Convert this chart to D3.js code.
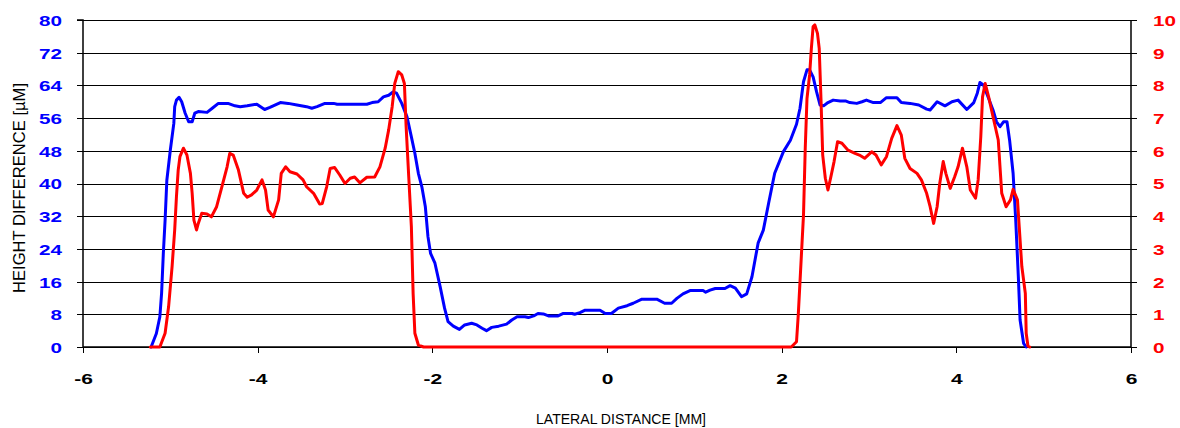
<!DOCTYPE html>
<html>
<head>
<meta charset="utf-8">
<script src="https://cdn.jsdelivr.net/npm/d3@7"></script>
<style>
  html, body { margin: 0; padding: 0; background: #fff; }
  svg { display: block; }
</style>
</head>
<body>
<svg id="chart" width="1180" height="428"></svg>
<script>
// ---- data ----
const xTicks = [-6, -4, -2, 0, 2, 4, 6];
const yLeftTicks = [0, 8, 16, 24, 32, 40, 48, 56, 64, 72, 80];
const yRightTicks = [0, 1, 2, 3, 4, 5, 6, 7, 8, 9, 10];
const xTitle = "LATERAL DISTANCE [MM]";
const yTitle = "HEIGHT DIFFERENCE [µM]";

// height difference (µm), left axis
const blueSeries = [[-5.22,0],[-5.16,3.3],[-5.12,7.4],[-5.10,13.2],[-5.08,23],[-5.06,31],[-5.04,40.8],[-5.00,48.2],[-4.96,54.7],[-4.95,58.8],[-4.93,60.4],[-4.90,61.1],[-4.87,60],[-4.83,57.2],[-4.79,55.1],[-4.75,55.1],[-4.72,57.2],[-4.68,57.6],[-4.58,57.4],[-4.52,58.4],[-4.45,59.6],[-4.34,59.6],[-4.26,59],[-4.20,58.8],[-4.12,59],[-4.01,59.4],[-3.92,58.1],[-3.86,58.6],[-3.74,59.8],[-3.65,59.6],[-3.55,59.2],[-3.44,58.8],[-3.38,58.4],[-3.32,58.8],[-3.23,59.6],[-3.13,59.6],[-3.09,59.4],[-2.75,59.4],[-2.69,59.8],[-2.62,60],[-2.56,61.2],[-2.50,61.6],[-2.45,62.4],[-2.41,62.1],[-2.35,59.6],[-2.29,56.3],[-2.24,51.4],[-2.20,47.4],[-2.16,42.5],[-2.12,39.2],[-2.08,34.3],[-2.05,27],[-2.02,22.9],[-1.97,20.5],[-1.91,14.7],[-1.86,9.5],[-1.82,6.2],[-1.76,5.1],[-1.69,4.3],[-1.63,5.4],[-1.55,5.8],[-1.49,5.4],[-1.43,4.6],[-1.38,4.0],[-1.32,4.8],[-1.24,5.1],[-1.15,5.6],[-1.09,6.6],[-1.03,7.4],[-0.94,7.4],[-0.90,7.2],[-0.84,7.6],[-0.79,8.2],[-0.73,8.1],[-0.67,7.6],[-0.56,7.6],[-0.50,8.2],[-0.40,8.2],[-0.37,8.0],[-0.31,8.4],[-0.25,9.0],[-0.08,9.0],[-0.02,8.2],[0.05,8.2],[0.13,9.5],[0.23,10.1],[0.30,10.7],[0.40,11.7],[0.57,11.7],[0.66,10.7],[0.74,10.7],[0.80,11.9],[0.87,13],[0.95,13.8],[1.10,13.8],[1.13,13.4],[1.18,13.9],[1.24,14.3],[1.35,14.3],[1.41,15],[1.47,14.4],[1.54,12.3],[1.60,13],[1.66,17.2],[1.73,25.4],[1.79,28.6],[1.85,35.1],[1.92,42.5],[2.02,47.8],[2.10,50.6],[2.17,54.5],[2.21,58.4],[2.25,64.9],[2.29,67.8],[2.32,67.8],[2.36,66.1],[2.40,62.4],[2.44,59.2],[2.48,59],[2.53,59.8],[2.59,60.4],[2.67,60.2],[2.73,60.2],[2.78,59.8],[2.86,59.6],[2.92,60],[2.97,60.4],[3.05,59.8],[3.13,59.8],[3.20,61],[3.32,61],[3.37,59.8],[3.47,59.6],[3.57,59.2],[3.66,58.2],[3.70,58],[3.78,60],[3.87,59],[3.95,60],[4.02,60.4],[4.12,58.1],[4.20,59.8],[4.24,62.1],[4.27,64.7],[4.31,64.1],[4.37,60.8],[4.42,58],[4.46,55.1],[4.50,53.9],[4.54,55.1],[4.58,55.1],[4.61,50.6],[4.65,42.5],[4.68,31.1],[4.71,17.2],[4.73,6.6],[4.77,0.9],[4.80,0]];

// right axis series
const redSeries = [[-5.23,0],[-5.12,0],[-5.06,0.42],[-5.02,1.23],[-4.98,2.46],[-4.95,3.58],[-4.93,4.6],[-4.91,5.41],[-4.89,5.82],[-4.85,6.08],[-4.81,5.87],[-4.77,5.31],[-4.75,4.7],[-4.73,3.88],[-4.70,3.58],[-4.68,3.78],[-4.64,4.09],[-4.58,4.07],[-4.53,3.98],[-4.47,4.29],[-4.41,4.9],[-4.35,5.51],[-4.32,5.92],[-4.28,5.87],[-4.22,5.41],[-4.16,4.7],[-4.12,4.58],[-4.07,4.65],[-4.01,4.8],[-3.95,5.11],[-3.91,4.8],[-3.88,4.19],[-3.82,3.98],[-3.76,4.5],[-3.73,5.31],[-3.68,5.51],[-3.63,5.36],[-3.55,5.29],[-3.48,5.11],[-3.44,4.9],[-3.36,4.7],[-3.29,4.37],[-3.26,4.39],[-3.21,4.9],[-3.17,5.46],[-3.12,5.49],[-3.06,5.26],[-3.00,5.0],[-2.94,5.16],[-2.89,5.2],[-2.83,5.02],[-2.75,5.19],[-2.66,5.2],[-2.60,5.51],[-2.54,6.08],[-2.50,6.64],[-2.46,7.35],[-2.43,8.06],[-2.39,8.42],[-2.35,8.32],[-2.32,8.06],[-2.30,6.74],[-2.27,5.2],[-2.24,3.68],[-2.22,1.64],[-2.20,0.42],[-2.16,0.06],[-2.10,0],[2.11,0],[2.17,0.16],[2.19,0.98],[2.21,2.0],[2.23,3.02],[2.25,4.04],[2.27,6.08],[2.29,7.6],[2.32,8.32],[2.34,9.13],[2.36,9.8],[2.38,9.85],[2.41,9.59],[2.43,9.13],[2.45,7.6],[2.47,5.87],[2.50,5.16],[2.53,4.8],[2.56,5.16],[2.60,5.67],[2.64,6.28],[2.69,6.23],[2.76,6.02],[2.84,5.92],[2.89,5.87],[2.95,5.77],[3.03,5.97],[3.08,5.87],[3.14,5.57],[3.20,5.82],[3.26,6.38],[3.32,6.77],[3.37,6.48],[3.41,5.77],[3.47,5.46],[3.55,5.31],[3.60,5.11],[3.66,4.7],[3.70,4.29],[3.74,3.78],[3.78,4.29],[3.81,5.0],[3.85,5.67],[3.88,5.31],[3.93,4.85],[3.98,5.2],[4.02,5.51],[4.07,6.08],[4.12,5.51],[4.16,4.8],[4.22,4.55],[4.25,5.11],[4.28,6.43],[4.30,7.65],[4.33,8.06],[4.37,7.65],[4.42,7.04],[4.48,6.33],[4.52,4.7],[4.57,4.29],[4.62,4.5],[4.65,4.82],[4.70,4.5],[4.72,3.68],[4.75,2.46],[4.79,1.64],[4.80,0.42],[4.82,0.03],[4.84,0]];

// ---- layout ----
const margin = { left: 83, right: 1131, top: 20, bottom: 347 };
const svg = d3.select("#chart");
const font = "'Liberation Sans', Arial, Helvetica, sans-serif";

const x = d3.scaleLinear().domain([-6, 6]).range([margin.left, margin.right]);
const yL = d3.scaleLinear().domain([0, 80]).range([margin.bottom, margin.top]);
const yR = d3.scaleLinear().domain([0, 10]).range([margin.bottom, margin.top]);

// gridlines
svg.append("g")
  .attr("transform", `translate(${margin.left},0)`)
  .call(d3.axisLeft(yL).tickValues(yLeftTicks).tickSize(-(margin.right - margin.left)).tickFormat(""))
  .call(g => g.select(".domain").remove())
  .call(g => g.selectAll("line").attr("stroke", "#000").attr("stroke-width", 1)
     .attr("shape-rendering", "crispEdges"));

function stretch(sel, sx) {
  sel.each(function () {
    const t = d3.select(this);
    const xx = +t.attr("x") || 0;
    t.attr("transform", `translate(${xx},0) scale(${sx},1)`).attr("x", 0);
  });
}

// left axis
const gL = svg.append("g")
  .attr("transform", `translate(${margin.left},0)`)
  .call(d3.axisLeft(yL).tickValues(yLeftTicks).tickSize(6).tickPadding(15));
gL.select(".domain").attr("stroke", "#000").attr("stroke-width", 1.5).attr("d", `M-6,${margin.top}H0V${margin.bottom}`);
gL.selectAll(".tick line").attr("stroke", "#000").attr("shape-rendering", "crispEdges");
gL.selectAll(".tick text")
  .attr("fill", "#0000FF").attr("font-family", font).attr("font-weight", "bold").attr("font-size", 15)
  .attr("dy", "0.36em")
  .call(stretch, 1.38);

// right axis
const gR = svg.append("g")
  .attr("transform", `translate(${margin.right},0)`)
  .call(d3.axisRight(yR).tickValues(yRightTicks).tickSize(6).tickPadding(16));
gR.select(".domain").attr("stroke", "#000").attr("stroke-width", 1.5).attr("d", `M0,${margin.top}V${margin.bottom}`);
gR.selectAll(".tick line").attr("stroke", "#000").attr("shape-rendering", "crispEdges");
gR.selectAll(".tick text")
  .attr("fill", "#FF0000").attr("font-family", font).attr("font-weight", "bold").attr("font-size", 15)
  .attr("dy", "0.36em")
  .call(stretch, 1.38);

// bottom axis
const gB = svg.append("g")
  .attr("transform", `translate(0,${margin.bottom})`)
  .call(d3.axisBottom(x).tickValues(xTicks).tickSize(6).tickPadding(20).tickFormat(d3.format("d")));
gB.select(".domain").attr("stroke", "#000").attr("stroke-width", 1.5).attr("d", `M${margin.left},0H${margin.right}`);
gB.selectAll(".tick line").attr("stroke", "#000").attr("shape-rendering", "crispEdges");
gB.selectAll(".tick text")
  .attr("fill", "#000").attr("font-family", font).attr("font-weight", "bold").attr("font-size", 15)
  .attr("dy", "0.71em")
  .text(d => d < 0 ? "-" + Math.abs(d) : String(d))
  .attr("transform", "scale(1.4,1)");

// lines
const line = (ys) => d3.line().x(d => x(d[0])).y(d => ys(d[1])).curve(d3.curveLinear);
svg.append("path").datum(blueSeries)
  .attr("fill", "none").attr("stroke", "#0000FF").attr("stroke-width", 3)
  .attr("stroke-linejoin", "round").attr("stroke-linecap", "round")
  .attr("d", line(yL));
svg.append("path").datum(redSeries)
  .attr("fill", "none").attr("stroke", "#FF0000").attr("stroke-width", 3)
  .attr("stroke-linejoin", "round").attr("stroke-linecap", "round")
  .attr("d", line(yR));

// titles
svg.append("text")
  .attr("x", 621).attr("y", 424)
  .attr("text-anchor", "middle")
  .attr("font-family", font).attr("font-size", 15).attr("fill", "#000")
  .attr("textLength", 170).attr("lengthAdjust", "spacingAndGlyphs")
  .text(xTitle);

svg.append("text")
  .attr("transform", "translate(25,188) rotate(-90)")
  .attr("text-anchor", "middle")
  .attr("font-family", font).attr("font-size", 16).attr("fill", "#000")
  .attr("textLength", 210).attr("lengthAdjust", "spacingAndGlyphs")
  .text(yTitle);
</script>
</body>
</html>
